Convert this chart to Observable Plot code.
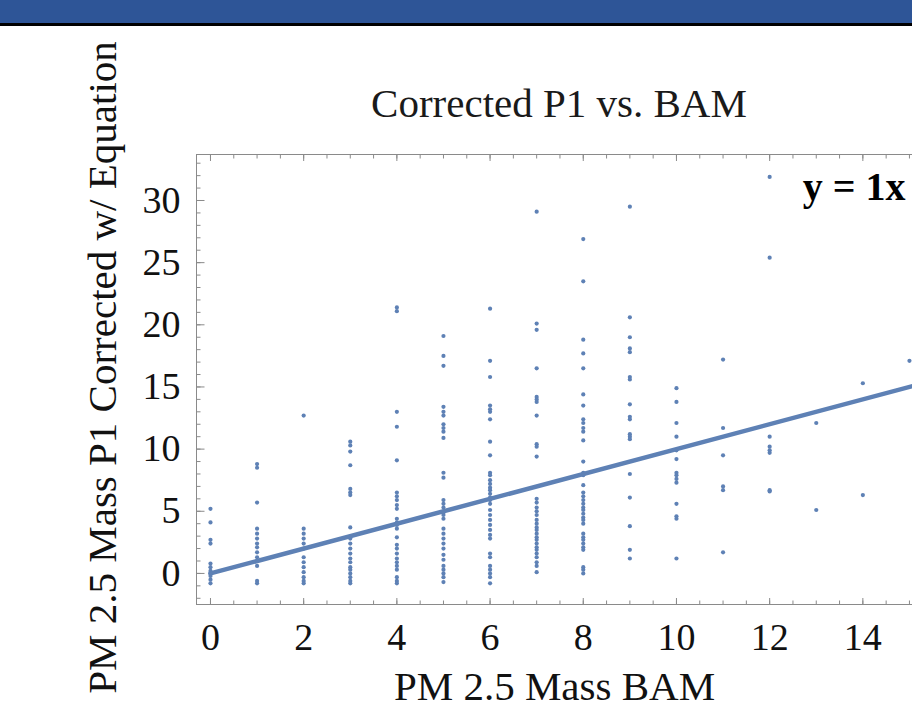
<!DOCTYPE html>
<html><head><meta charset="utf-8">
<script src="https://cdn.jsdelivr.net/npm/d3@7"></script>
<script src="https://cdn.jsdelivr.net/npm/@observablehq/plot@0.6"></script>
<style>
html,body{margin:0;padding:0;background:#fff;}
#page{position:relative;width:912px;height:718px;overflow:hidden;background:#fff;}
#header{position:absolute;left:0;top:0;width:912px;height:23px;background:#2E5597;border-bottom:3px solid #000;z-index:2;}
#title{position:absolute;left:196px;width:726px;top:83px;text-align:center;font-family:"Liberation Serif","Times New Roman",serif;font-size:41px;line-height:41px;color:#1a1a1a;z-index:2;white-space:nowrap;}
#chart{position:absolute;left:0;top:0;width:960px;height:718px;}
#chart svg{max-width:none !important;}
</style></head><body>
<div id="page"><div id="chart"></div><div id="header"></div><div id="title"></div></div>
<script>
const titleText = "Corrected P1 vs. BAM";
const xLabel = "PM 2.5 Mass BAM";
const yLabel = "PM 2.5 Mass P1 Corrected w/ Equation";
const equation = ["y = 1x"];

// BAM values (x columns)
const bamValues = [0, 1, 2, 3, 4, 5, 6, 7, 8, 9, 10, 11, 12, 13, 14, 15];
// Corrected P1 values observed at each BAM value
const p1At0 = [5.2, 4.1, 2.7, 2.4, 0.8, 0.5, 0.2, 0.0, -0.2, -0.5, -0.8];
const p1At1 = [8.8, 8.5, 5.7, 3.6, 3.2, 2.8, 2.4, 2.1, 1.7, 1.3, 1.0, 0.6, -0.6, -0.8];
const p1At2 = [12.7, 3.6, 3.2, 2.8, 2.4, 2.0, 1.3, 0.9, 0.5, 0.1, -0.3, -0.6, -0.8];
const p1At3 = [10.6, 10.3, 9.8, 8.7, 6.8, 6.5, 6.3, 3.7, 2.8, 2.4, 2.0, 1.6, 1.2, 0.9, 0.5, 0.3, 0.0, -0.3, -0.6, -0.8];
const p1At4 = [21.4, 21.1, 13.0, 11.8, 9.1, 6.5, 6.2, 5.9, 5.5, 5.2, 4.4, 4.1, 3.9, 3.6, 2.9, 2.3, 2.0, 1.6, 1.2, 0.9, 0.6, 0.3, -0.3, -0.6, -0.8];
const p1At5 = [19.1, 17.5, 16.7, 13.4, 13.0, 12.7, 12.0, 11.7, 11.4, 10.9, 8.1, 7.7, 5.9, 5.6, 5.3, 4.9, 4.7, 4.4, 3.6, 3.2, 2.8, 2.4, 2.0, 1.5, 1.1, 0.6, 0.3, 0.0, -0.3, -0.7];
const p1At6 = [21.3, 17.1, 15.8, 13.5, 13.2, 13.0, 12.4, 10.6, 9.5, 8.1, 7.9, 7.5, 7.2, 6.9, 6.7, 6.4, 6.1, 5.9, 5.6, 5.1, 4.7, 4.3, 3.9, 3.5, 3.1, 2.8, 1.6, 1.3, 0.6, 0.3, 0.0, -0.3, -0.8];
const p1At7 = [29.1, 20.1, 19.6, 16.5, 14.2, 14.0, 13.8, 12.7, 10.4, 10.2, 9.4, 6.0, 5.7, 5.3, 5.0, 4.7, 4.3, 4.0, 3.7, 3.5, 3.2, 2.9, 2.7, 2.4, 2.1, 1.9, 1.6, 1.3, 0.9, 0.6, 0.1];
const p1At8 = [26.9, 23.5, 18.8, 17.7, 16.5, 14.4, 13.5, 12.4, 12.1, 11.7, 11.4, 10.7, 9.0, 8.1, 7.9, 7.1, 6.5, 6.2, 5.9, 5.6, 5.3, 5.1, 4.8, 4.5, 4.3, 4.0, 3.2, 2.9, 2.7, 2.4, 2.1, 1.9, 0.5, 0.3, 0.0];
const p1At9 = [29.5, 20.6, 19.0, 18.1, 17.8, 15.8, 15.6, 13.6, 12.6, 12.4, 11.2, 11.0, 10.8, 8.0, 6.1, 3.8, 1.9, 1.2];
const p1At10 = [14.9, 13.8, 12.1, 11.0, 9.9, 9.2, 8.1, 7.9, 7.6, 7.3, 5.6, 4.6, 4.4, 1.2];
const p1At11 = [17.2, 11.7, 9.5, 7.0, 6.7, 1.7];
const p1At12 = [31.9, 25.4, 11.0, 10.2, 9.9, 9.7, 6.7, 6.6];
const p1At13 = [12.1, 5.1];
const p1At14 = [15.3, 6.3];
const p1At15 = [17.1];

// Fitted equation y = slope * x
const fitSlope = 1;
const fitX = [0, 15.3];

// Axis ticks
const xMajorTicks = [0, 2, 4, 6, 8, 10, 12, 14];
const yMajorTicks = [0, 5, 10, 15, 20, 25, 30];
const xMinorTicks = d3.range(0, 15.01, 0.5);
const yMinorTicks = d3.range(-2, 34, 1);

const p1Columns = [p1At0, p1At1, p1At2, p1At3, p1At4, p1At5, p1At6, p1At7, p1At8, p1At9, p1At10, p1At11, p1At12, p1At13, p1At14, p1At15];
const points = bamValues.flatMap((b, i) => p1Columns[i].map(v => ({bam: b, p1: v})));
const fitLine = fitX.map(x => ({bam: x, p1: fitSlope * x}));

const serif = '"Liberation Serif", "Times New Roman", serif';
const frameColor = "#8a8a8a";
const dotColor = "#5E81B5";

document.getElementById("title").textContent = titleText;

const tickOpts = (anchor, size) => ({anchor, tickSize: size, stroke: frameColor, fill: "none", label: null});

const chart = Plot.plot({
  width: 960,
  height: 718,
  marginLeft: 196,
  marginRight: 38,
  marginTop: 154,
  marginBottom: 114,
  x: {domain: [-0.3, 15.28], label: null},
  y: {domain: [-2.5, 33.7], label: null},
  style: {fontFamily: serif, fontSize: "38px", color: "#111", background: "transparent", overflow: "visible", maxWidth: "none"},
  marks: [
    Plot.frame({stroke: frameColor}),
    Plot.axisX(xMinorTicks, tickOpts("bottom", -3.5)),
    Plot.axisX(xMajorTicks, tickOpts("bottom", -6)),
    Plot.axisX(xMinorTicks, tickOpts("top", -3.5)),
    Plot.axisX(xMajorTicks, tickOpts("top", -6)),
    Plot.axisY(yMinorTicks, tickOpts("left", -4.5)),
    Plot.axisY(yMajorTicks, tickOpts("left", -8.5)),
    Plot.axisY(yMinorTicks, tickOpts("right", -4.5)),
    Plot.axisY(yMajorTicks, tickOpts("right", -8.5)),
    Plot.axisX(xMajorTicks, {anchor: "bottom", tickSize: 0, tickPadding: 19, fontSize: 38, label: null, fill: "#111"}),
    Plot.axisY(yMajorTicks, {anchor: "left", tickSize: 0, tickPadding: 16, fontSize: 38, label: null, fill: "#111"}),
    Plot.dot(points, {x: "bam", y: "p1", r: 2.1, fill: dotColor, stroke: null}),
    Plot.line(fitLine, {x: "bam", y: "p1", stroke: dotColor, strokeWidth: 4.5, clip: true}),
    Plot.text(equation, {text: d => d, frameAnchor: "top-right", dx: -17, dy: 45, lineAnchor: "bottom", textAnchor: "end", fontWeight: "bold", fontSize: 40, fill: "#000"}),
    Plot.text([xLabel], {text: d => d, frameAnchor: "bottom", dx: -5, dy: 95, lineAnchor: "bottom", textAnchor: "middle", fontSize: 41, fill: "#111"}),
    Plot.text([yLabel], {text: d => d, frameAnchor: "left", rotate: -90, dx: -81, dy: -12, lineAnchor: "bottom", textAnchor: "middle", fontSize: 41, fill: "#111"})
  ]
});
document.getElementById("chart").appendChild(chart);
</script>
</body></html>
